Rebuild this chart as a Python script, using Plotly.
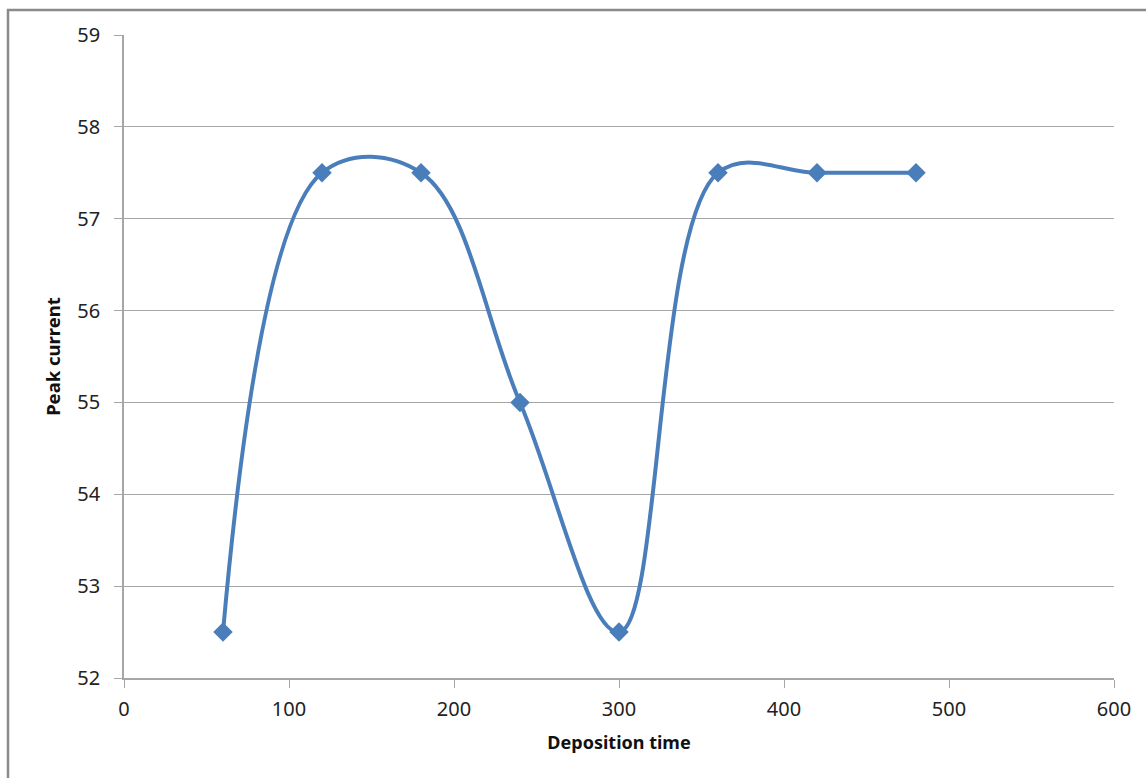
import plotly.graph_objects as go

# Deposition time (s) and measured peak current
deposition_time = [60, 120, 180, 240, 300, 360, 420, 480]
peak_current = [52.5, 57.5, 57.5, 55.0, 52.5, 57.5, 57.5, 57.5]

x_ticks = [0, 100, 200, 300, 400, 500, 600]
y_ticks = [52, 53, 54, 55, 56, 57, 58, 59]

LINE_BLUE = "#4a7ebb"
GRID = "#a6a6a6"
FONT = "Noto Sans"

fig = go.Figure(
    go.Scatter(
        x=deposition_time,
        y=peak_current,
        mode="lines+markers",
        line=dict(color=LINE_BLUE, width=4, shape="spline", smoothing=1.05),
        marker=dict(symbol="diamond", size=15, color=LINE_BLUE),
        showlegend=False,
    )
)

W, H = 1146, 778
ml, mr, mt, mb = 124, 32, 35, 100
pw, ph = W - ml - mr, H - mt - mb

# outer chart frame (left and top edges visible)
fig.add_shape(
    type="rect", xref="paper", yref="paper",
    x0=(8 - ml) / pw, x1=(W + 20 - ml) / pw,
    y0=-(mb + 20) / ph, y1=1 + (mt - 10) / ph,
    line=dict(color="#8a8a8a", width=2.5), fillcolor="rgba(0,0,0,0)",
    layer="below",
)

fig.update_layout(
    width=W, height=H,
    margin=dict(l=ml, r=mr, t=mt, b=mb),
    paper_bgcolor="white", plot_bgcolor="white",
    font=dict(family=FONT, color="#222222", size=18),
    xaxis=dict(
        range=[0, 600], tickvals=x_ticks, ticktext=[str(v) for v in x_ticks],
        showgrid=False, zeroline=False, showline=True, linecolor=GRID, linewidth=1.5,
        ticks="outside", ticklen=8, tickcolor=GRID, tickwidth=1,
        ticklabelstandoff=4,
        tickfont=dict(size=20, family=FONT, color="#222222"),
        title=dict(text="<b>Deposition time</b>", font=dict(size=18, family=FONT, color="#111111"), standoff=16),
    ),
    yaxis=dict(
        range=[52, 59], tickvals=y_ticks, ticktext=[str(v) for v in y_ticks],
        showgrid=True, gridcolor=GRID, gridwidth=1,
        zeroline=False, showline=True, linecolor=GRID, linewidth=1.5,
        ticks="outside", ticklen=8, tickcolor=GRID, tickwidth=1,
        ticklabelstandoff=10,
        tickfont=dict(size=20, family=FONT, color="#222222"),
        title=dict(text="<b>Peak current</b>", font=dict(size=18.5, family=FONT, color="#111111"), standoff=12),
    ),
)

fig.write_html("out.html")
